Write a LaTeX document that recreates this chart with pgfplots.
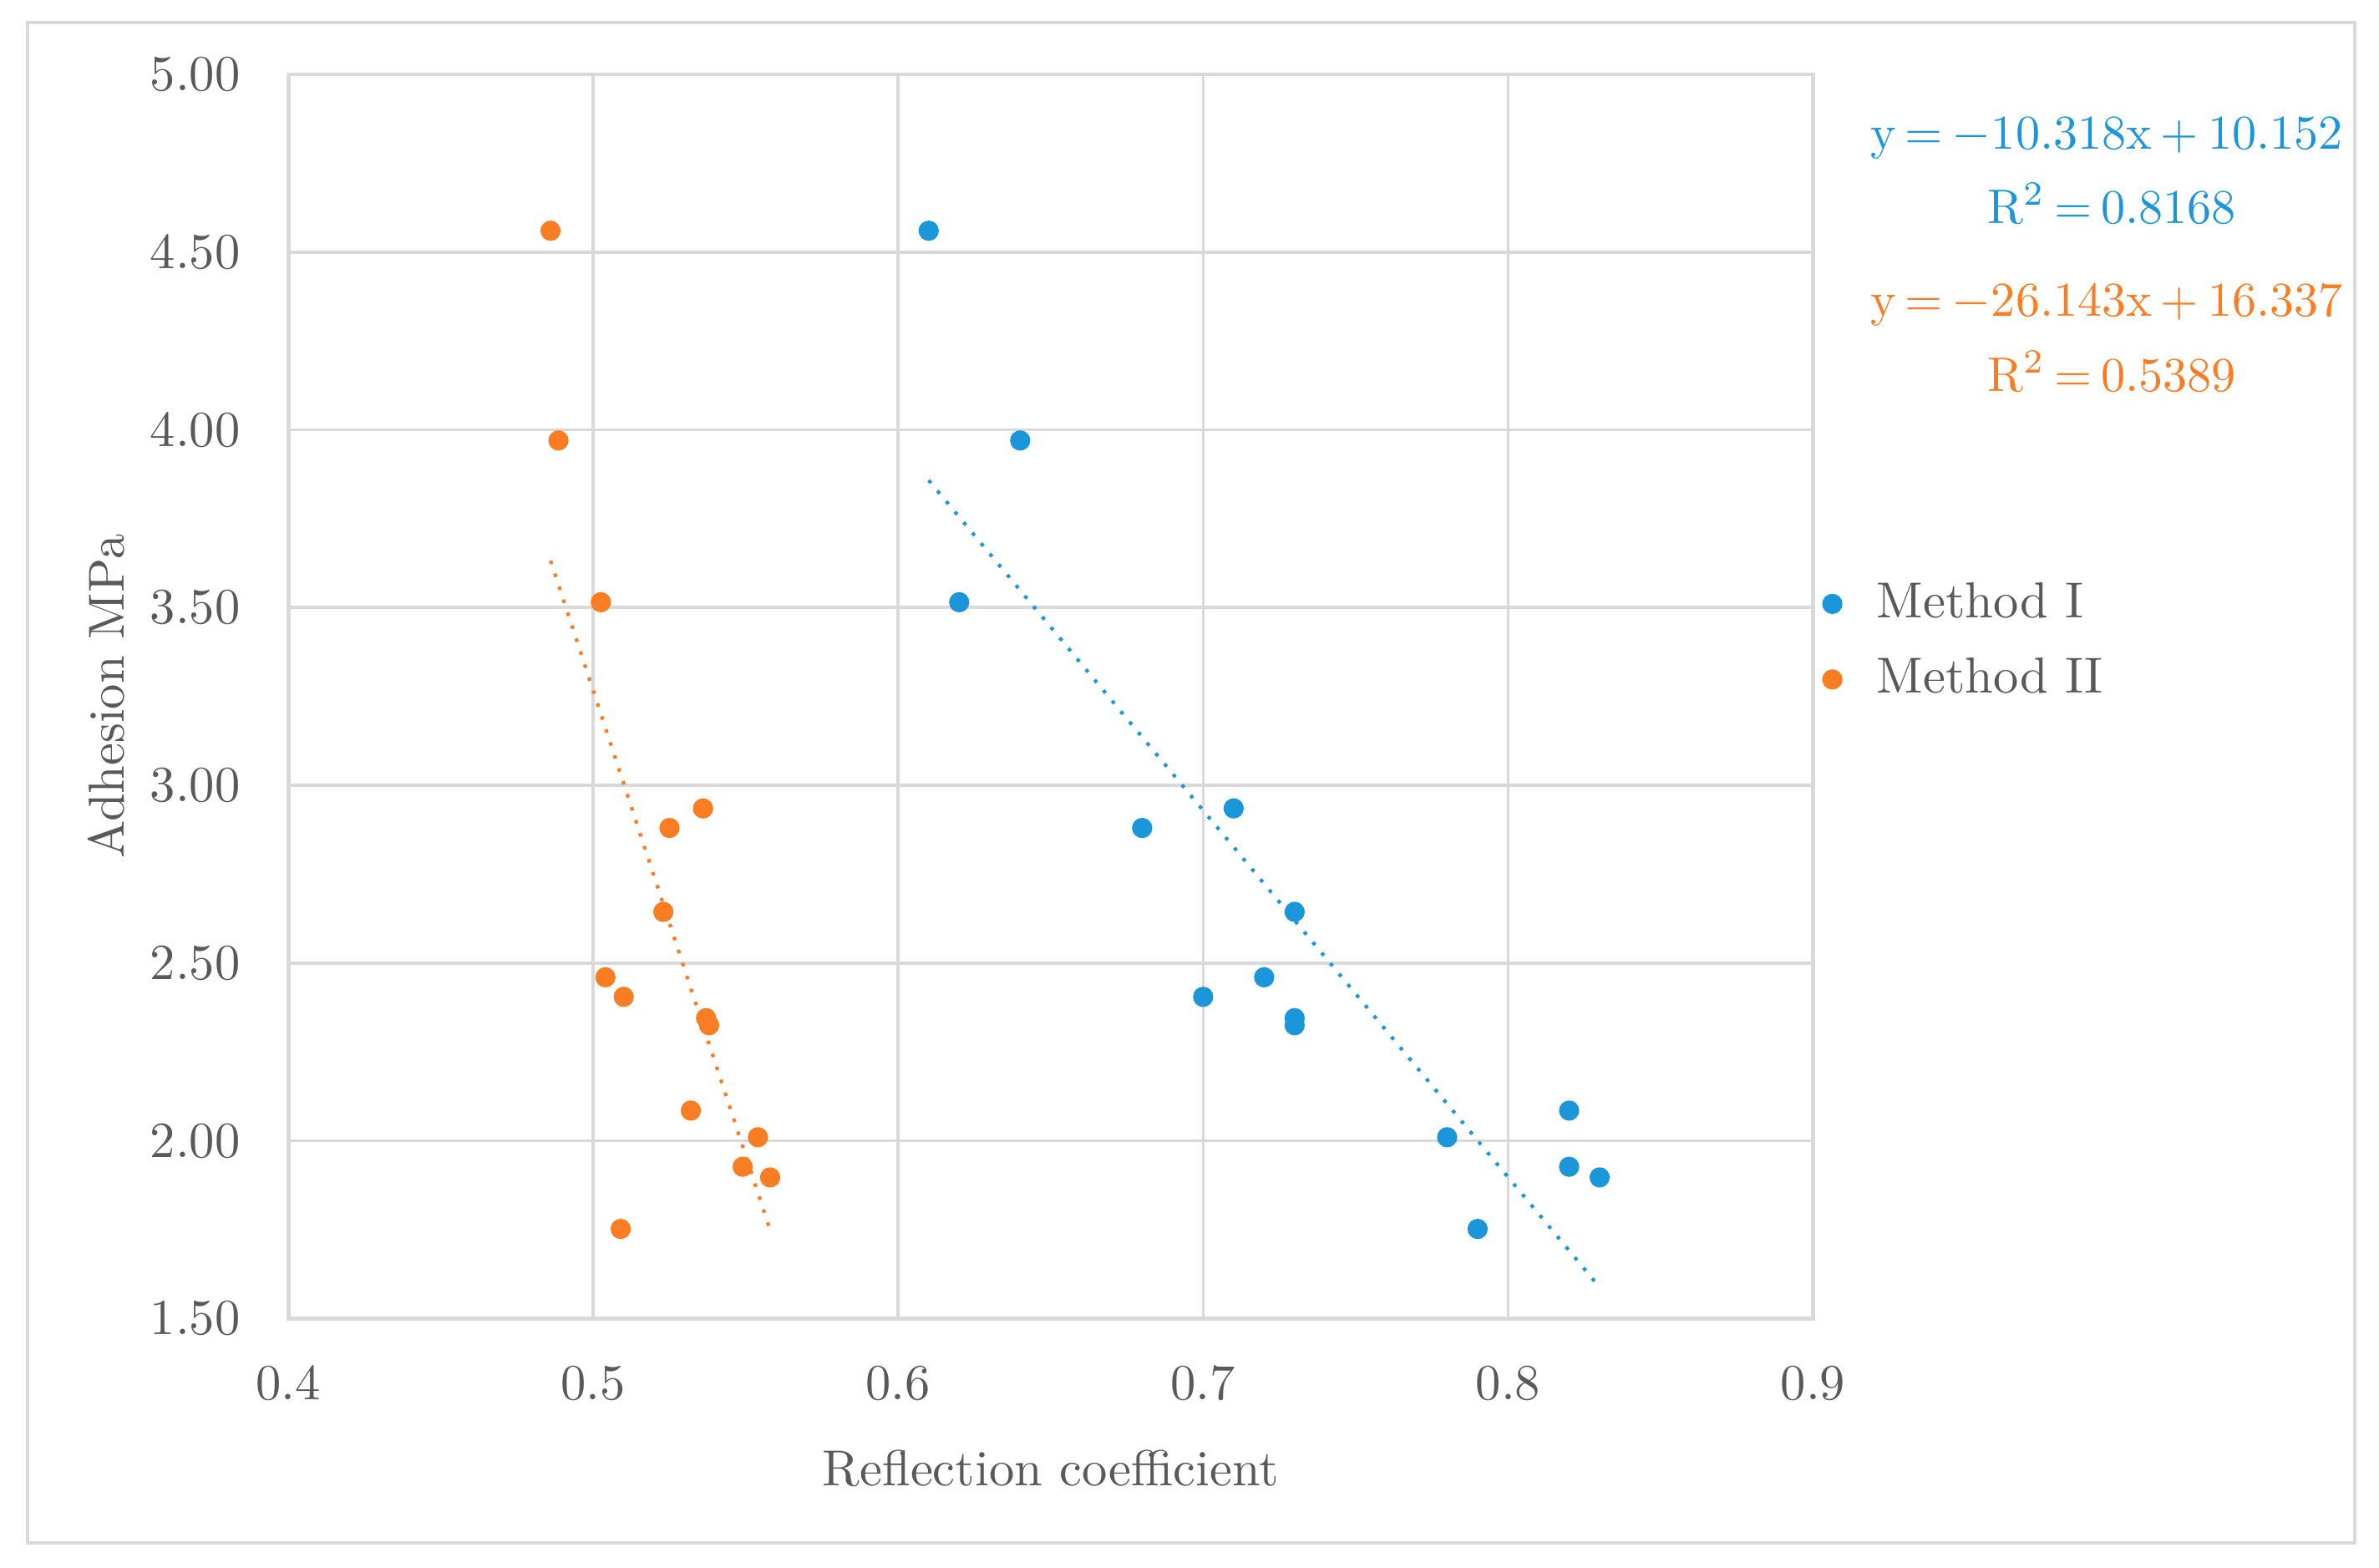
\documentclass[border=0pt]{standalone}
\usepackage{pgfplots}
\pgfplotsset{compat=1.18}
\usetikzlibrary{calc}

\definecolor{mblue}{RGB}{28,150,218}
\definecolor{morange}{RGB}{250,125,35}
\definecolor{txtgray}{RGB}{89,89,89}
\definecolor{gridgray}{RGB}{217,217,217}

\newcommand{\gap}{\hspace{1.8pt}}

\begin{document}
\begin{tikzpicture}
\begin{axis}[
    scale only axis,
    width=301.5pt, height=246pt,
    xmin=0.4, xmax=0.9, ymin=1.5, ymax=5,
    xtick={0.4,0.5,0.6,0.7,0.8,0.9},
    ytick={1.5,2,2.5,3,3.5,4,4.5,5},
    yticklabel style={/pgf/number format/.cd, fixed, fixed zerofill, precision=2},
    xticklabel style={/pgf/number format/.cd, fixed, precision=1},
    major tick length=0pt,
    tick label style={text=txtgray},
    xticklabel shift=6pt,
    yticklabel shift=6pt,
    grid=major,
    grid style={gridgray, line width=0.6pt},
    axis line style={gridgray, line width=0.8pt},
    xlabel={Reflection coefficient},
    ylabel={Adhesion MPa},
    label style={text=txtgray},
    xlabel style={at={(rel axis cs:0.5,-0.1207)}, anchor=center},
    ylabel style={at={(rel axis cs:-0.1194,0.5)}, anchor=center},
    legend image code/.code={\draw[#1] plot coordinates {(0cm,0cm)};},
    legend style={draw=none, fill=none, inner sep=0pt, at={(1.006,0.544)}, anchor=west,
        text=txtgray, row sep=2.5pt, legend cell align=left,
        /tikz/every odd column/.append style={column sep=5pt}},
    clip=false,
]
% Method I
\addplot[only marks, mark=*, mark size=1.8pt, color=mblue] coordinates {
    (0.61,4.56) (0.64,3.97) (0.62,3.515) (0.68,2.88) (0.71,2.935)
    (0.73,2.644) (0.72,2.46) (0.70,2.405) (0.73,2.345) (0.73,2.325)
    (0.78,2.01) (0.82,2.085) (0.82,1.927) (0.83,1.897) (0.79,1.752)
};
\addlegendentry{Method I}
% Method II
\addplot[only marks, mark=*, mark size=1.8pt, color=morange] coordinates {
    (0.486,4.56) (0.4886,3.97) (0.5025,3.515) (0.525,2.88) (0.536,2.935)
    (0.523,2.644) (0.504,2.46) (0.510,2.405) (0.537,2.345) (0.538,2.325)
    (0.554,2.01) (0.532,2.085) (0.549,1.927) (0.558,1.897) (0.509,1.752)
};
\addlegendentry{Method II}
% trend lines (endpoints)
\addplot[forget plot, mblue, dotted, line width=0.7pt] coordinates {(0.61,3.858) (0.83,1.588)};
\addplot[forget plot, morange, dotted, line width=0.7pt] coordinates {(0.486,3.632) (0.558,1.749)};

\begin{scope}[every node/.style={inner sep=0pt, font=\fontsize{9.6}{11}\selectfont}]
\node[anchor=east, text=mblue] at (rel axis cs:1.348,0.949) {y\gap=\gap$-$10.318x\gap+\gap10.152};
\node[anchor=center, text=mblue] at (rel axis cs:1.196,0.896) {R\textsuperscript{2}\gap=\gap0.8168};
\node[anchor=east, text=morange] at (rel axis cs:1.348,0.815) {y\gap=\gap$-$26.143x\gap+\gap16.337};
\node[anchor=center, text=morange] at (rel axis cs:1.196,0.761) {R\textsuperscript{2}\gap=\gap0.5389};
\end{scope}

\coordinate (sw) at (rel axis cs:0,0);
\coordinate (ne) at (rel axis cs:1,1);
\end{axis}
\draw[gridgray, line width=0.6pt] ($(sw)+(-51.6pt,-44.4pt)$) rectangle ($(ne)+(107.1pt,10.2pt)$);
\path[use as bounding box] ($(sw)+(-57pt,-49.2pt)$) rectangle ($(ne)+(111.9pt,14.7pt)$);
\end{tikzpicture}
\end{document}
